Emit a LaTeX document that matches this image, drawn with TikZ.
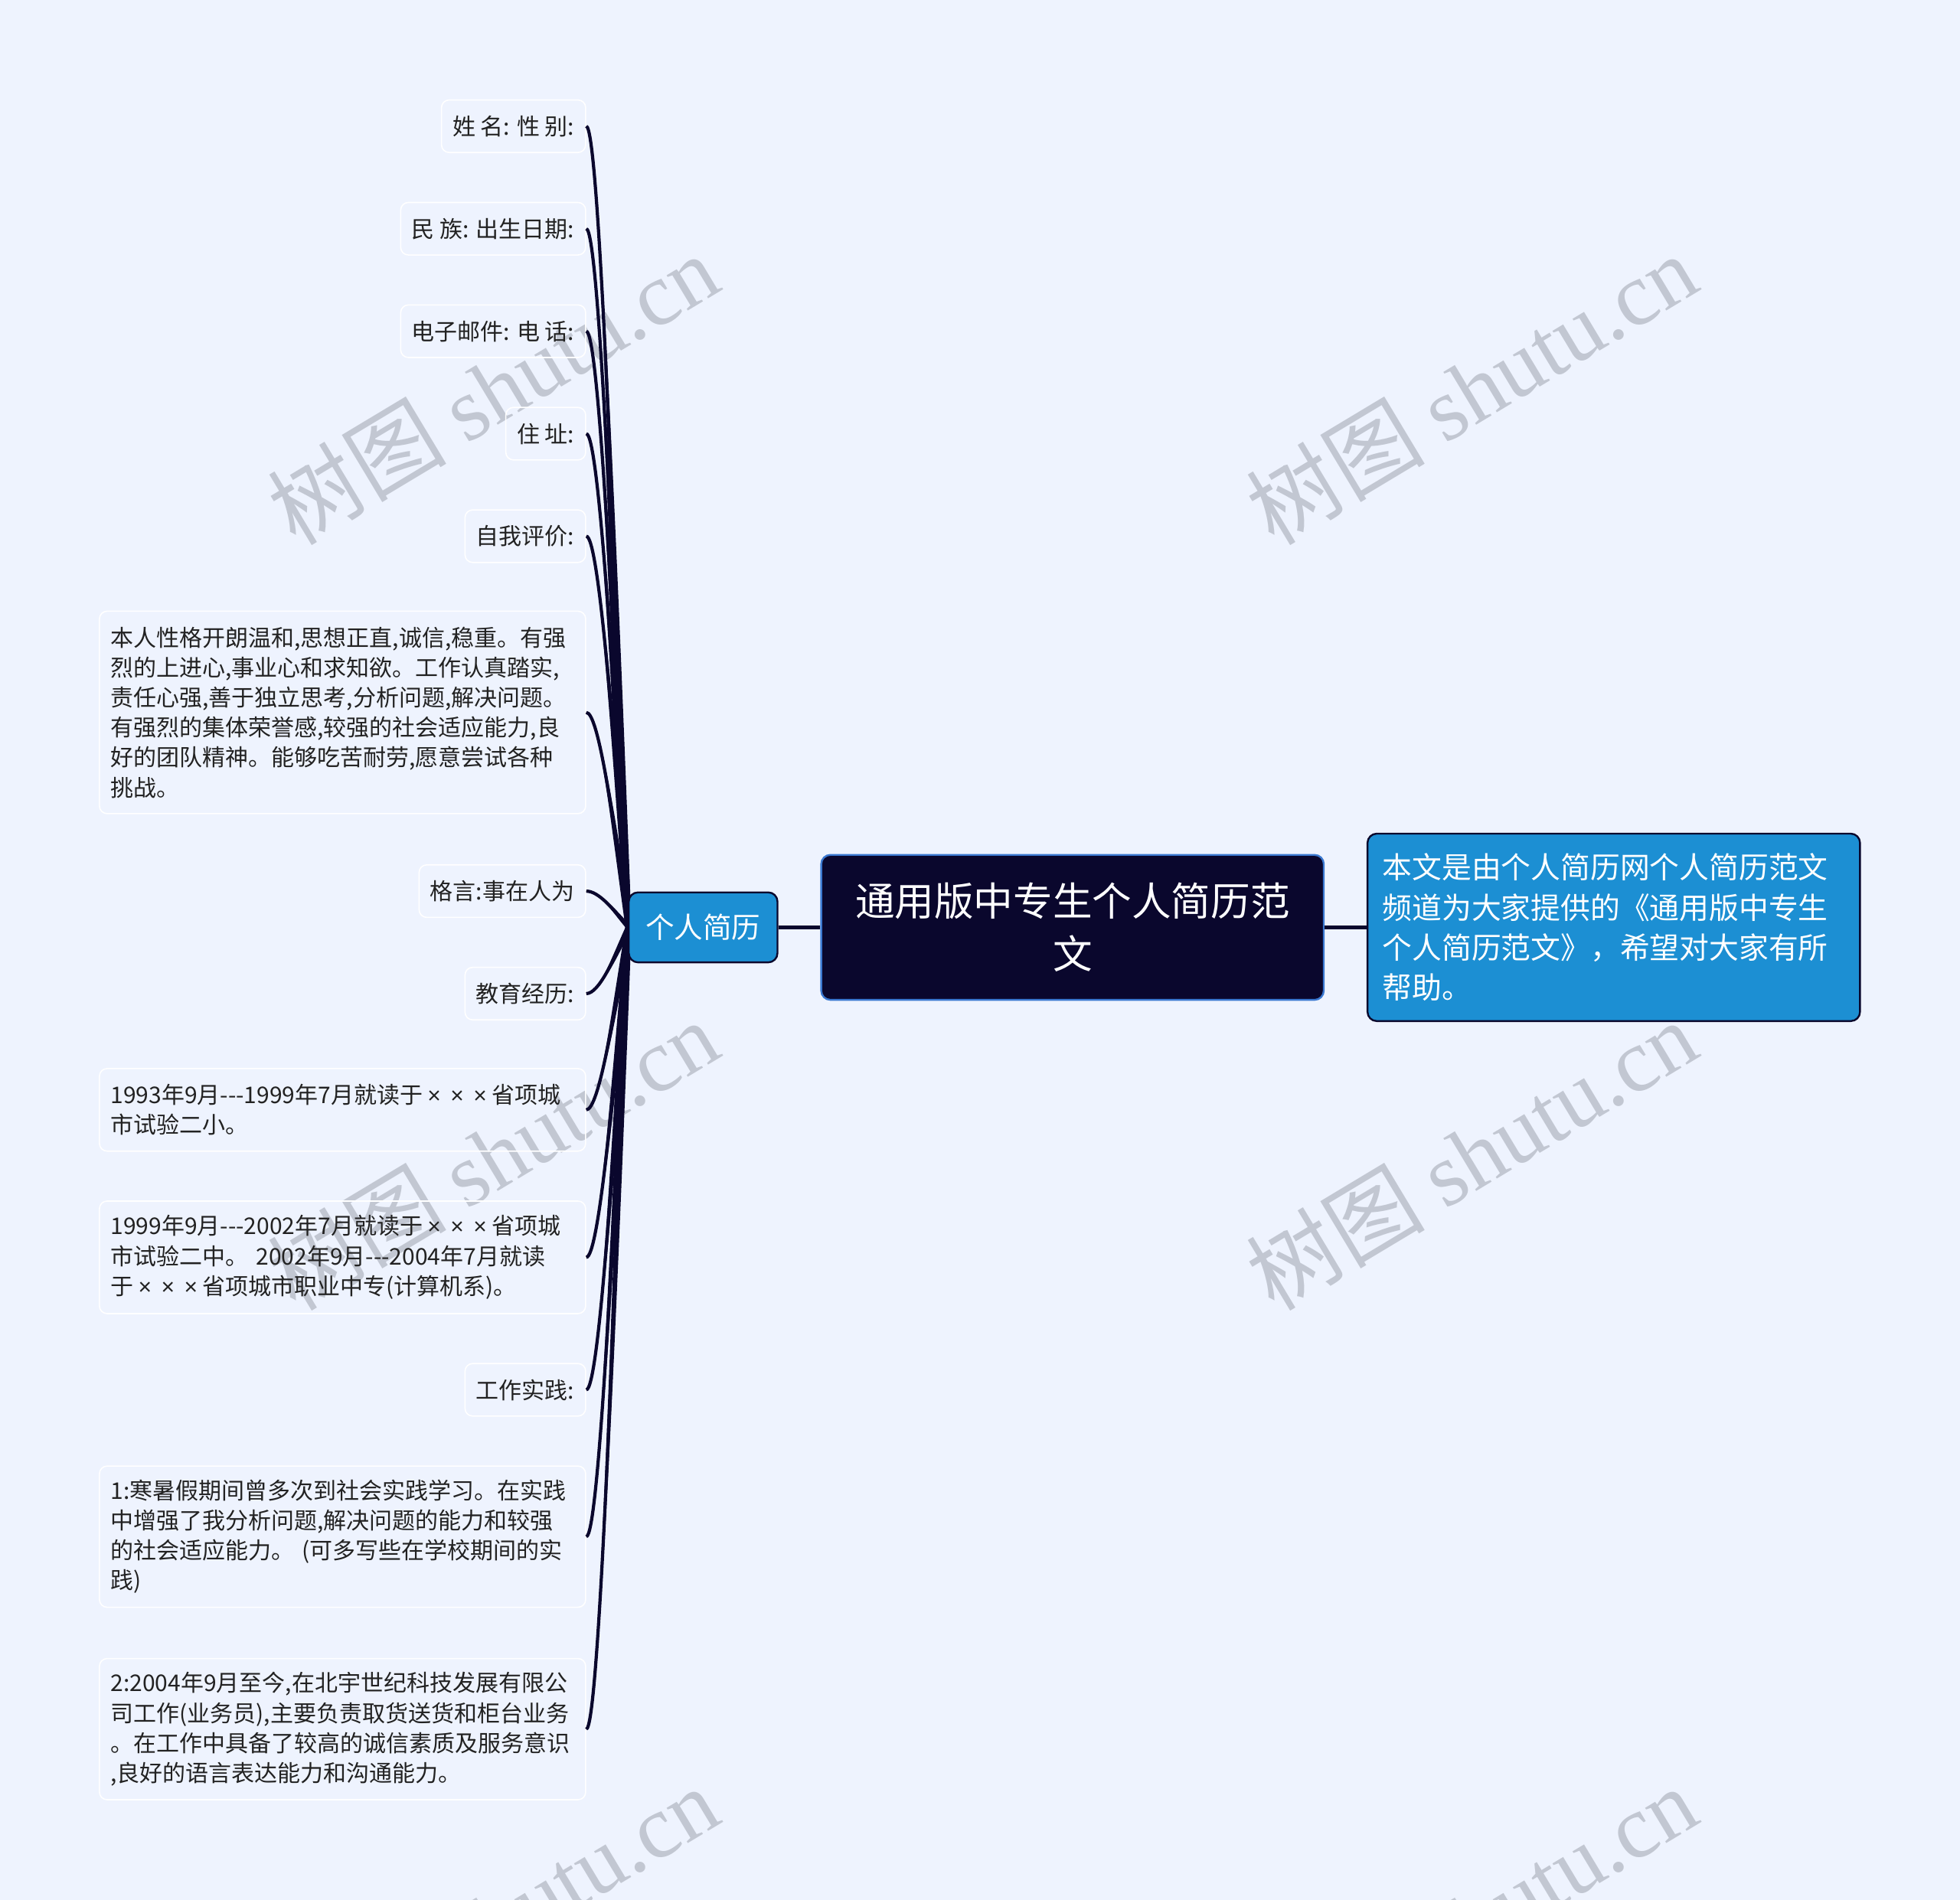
\documentclass[tikz,border=0pt]{standalone}
\usepackage{fontspec}
\usetikzlibrary{calc}
\setmainfont{Noto Sans CJK SC}[Ligatures=TeXOff]
\newfontfamily\wmlat{Liberation Serif}
\newfontfamily\cjkf{Noto Sans CJK SC}
\newfontfamily\latf{Liberation Sans}[Ligatures=TeXOff]
\newcommand\tm{\makebox[1em]{\latf ×}}
\newcommand\xxx{\tm\tm\tm}
\definecolor{bgc}{HTML}{EEF3FE}
\definecolor{navy}{HTML}{0A072D}
\definecolor{rootb}{HTML}{3A78D0}
\definecolor{bluec}{HTML}{1C8FD3}
\definecolor{leaftext}{HTML}{222222}
\definecolor{wmc}{HTML}{C2C7D2}
\tikzset{
  leaf/.style={draw=white, line width=0.8pt, rounded corners=5pt, inner xsep=7.3pt, inner ysep=0pt,
    minimum height=34.3pt, text=leaftext, font=\fontsize{15pt}{19.6pt}\selectfont, anchor=east},
  para/.style={leaf, text width=302.9pt, align=left},
  conn/.style={draw=navy, line width=2.1pt},
  mainconn/.style={draw=navy, line width=2.4pt},
  wm/.style={text=wmc, rotate=31, font=\fontsize{58.5pt}{58.5pt}\selectfont, inner sep=0pt}
}
\newcommand\branch[1]{%
  \fill[navy] let \p1=(g.west), \p2=(#1.east) in
    (\x1-2pt,\y1) .. controls (\x1-11.8pt, {\y1+0.5*(\y2-\y1)}) and (\x2+8.16pt,\y2) .. (\x2,\y2)
    .. controls (\x2+8.16pt,\y2) and (\x1-7.8pt, {\y1+0.5*(\y2-\y1)}) .. (\x1+2pt,\y1) -- cycle;
  \draw[conn] let \p1=(g.west), \p2=(#1.east) in
    (\x1,\y1) .. controls (\x1-9.8pt, {\y1+0.5*(\y2-\y1)}) and (\x2+8.16pt,\y2) .. (\x2,\y2);
}
\begin{document}
\begin{tikzpicture}[x=0.8163pt, y=-0.8163pt]
\fill[bgc] (0,0) rectangle (1568,1520);
\useasboundingbox (0,0) rectangle (1568,1520);
\clip (0,0) rectangle (1568,1520);
% watermarks
\foreach \wx/\wy in {394/311, 1177/311, 394/924, 1177/924, 394/1537, 1177/1537}
  \node[wm] (wm\wx\wy) at (\wx,\wy) {\cjkf 树图 \wmlat shutu.cn};
% leaves
\node[leaf] (n1) at (469,101) {姓 名: 性 别:};
\node[leaf] (n2) at (469,183) {民 族: 出生日期:};
\node[leaf] (n3) at (469,265) {电子邮件: 电 话:};
\node[leaf] (n4) at (469,347) {住 址:};
\node[leaf] (n5) at (469,429) {自我评价:};
\node[para, minimum height=132.2pt] (n6) at (469,570)
  {本人性格开朗温和,思想正直,诚信,稳重。有强\\烈的上进心,事业心和求知欲。工作认真踏实,\\责任心强,善于独立思考,分析问题,解决问题。\\有强烈的集体荣誉感,较强的社会适应能力,良\\好的团队精神。能够吃苦耐劳,愿意尝试各种\\挑战。};
\node[leaf] (n7) at (469,713) {格言:事在人为};
\node[leaf] (n8) at (469,795) {教育经历:};
\node[para, minimum height=53.9pt] (n9) at (469,888)
  {1993年9月---1999年7月就读于\xxx 省项城\\市试验二小。};
\node[para, minimum height=73.5pt] (n10) at (469,1006)
  {1999年9月---2002年7月就读于\xxx 省项城\\市试验二中。 2002年9月---2004年7月就读\\于\xxx 省项城市职业中专(计算机系)。};
\node[leaf] (n11) at (469,1112) {工作实践:};
\node[para, minimum height=92.2pt] (n12) at (469,1229.5)
  {1:寒暑假期间曾多次到社会实践学习。在实践\\中增强了我分析问题,解决问题的能力和较强\\的社会适应能力。 (可多写些在学校期间的实\\践)};
\node[para, minimum height=92.2pt] (n13) at (469,1383.5)
  {2:2004年9月至今,在北宇世纪科技发展有限公\\司工作(业务员),主要负责取货送货和柜台业务\\。在工作中具备了较高的诚信素质及服务意识\\,良好的语言表达能力和沟通能力。};
% central nodes
\node[fill=navy, draw=rootb, line width=1.2pt, rounded corners=6pt, minimum width=328.2pt,
  minimum height=94.7pt, inner sep=0pt, text=white, align=center,
  font=\fontsize{25.8pt}{34.3pt}\selectfont] (r) at (858,742) {通用版中专生个人简历范\\文};
\node[fill=bluec, draw=navy, line width=1.2pt, rounded corners=6pt, minimum width=321.6pt,
  minimum height=122.4pt, inner xsep=9.8pt, inner ysep=0pt, text width=302pt, align=left, text=white,
  font=\fontsize{19.4pt}{26.1pt}\selectfont] (d) at (1291,742)
  {本文是由个人简历网个人简历范文\\频道为大家提供的《通用版中专生\\个人简历范文》，希望对大家有所\\帮助。};
\path (562.5,742) node[minimum width=97.1pt, minimum height=45.7pt, inner sep=0pt] (g) {};
\foreach \bb in {n1,n2,n3,n4,n5,n6,n7,n8,n9,n10,n11,n12,n13}
  {\branch{\bb}}
\node[fill=bluec, draw=navy, line width=1.2pt, rounded corners=6pt, minimum width=97.1pt,
  minimum height=45.7pt, inner sep=0pt, text=white,
  font=\fontsize{18.8pt}{24pt}\selectfont] (gt) at (g.center) {个人简历};
\draw[mainconn] (gt.east) -- (r.west);
\draw[mainconn] (r.east) -- (d.west);
\end{tikzpicture}
\end{document}
